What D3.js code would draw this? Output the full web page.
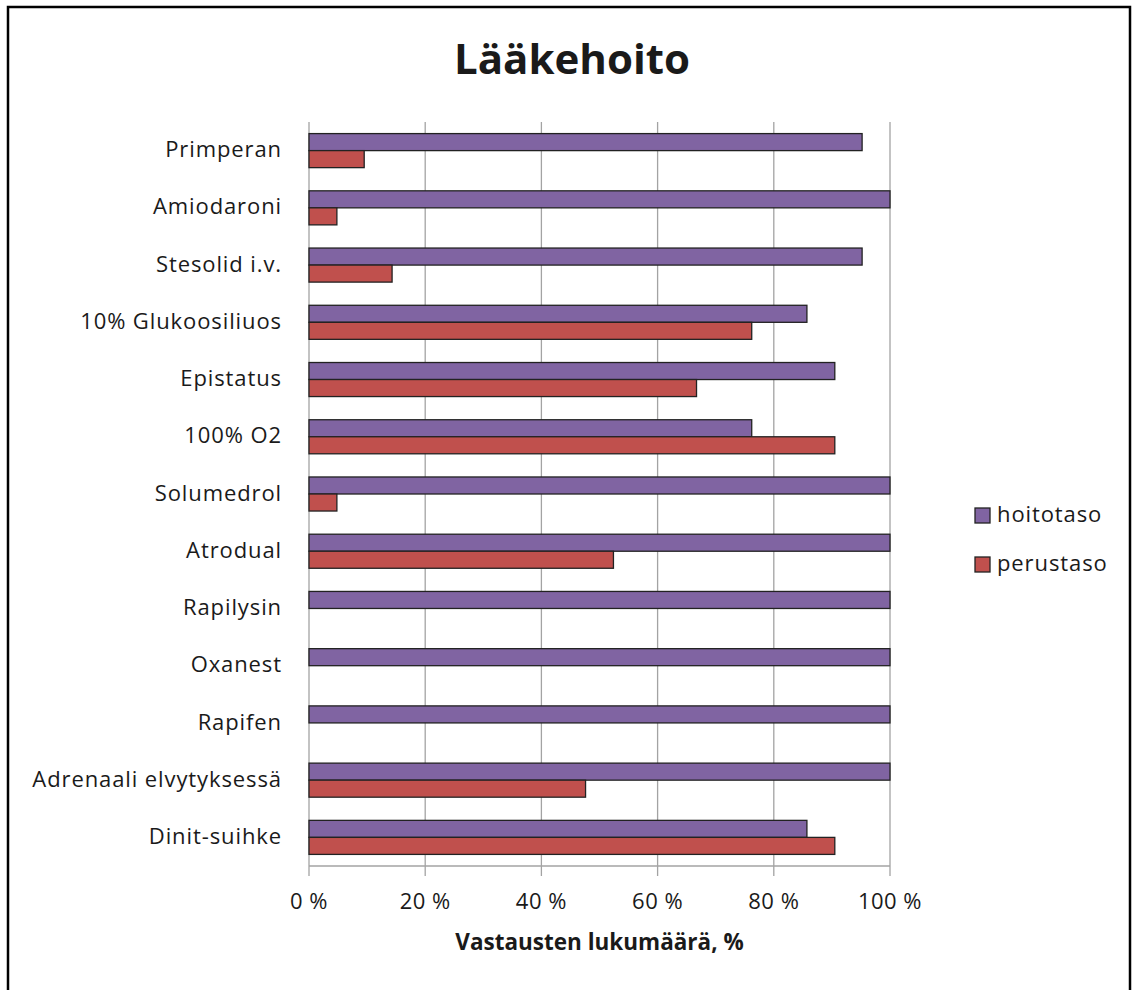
<!DOCTYPE html>
<html>
<head>
<meta charset="utf-8">
<script src="https://cdn.jsdelivr.net/npm/d3@7"></script>
<style>
  body { margin: 0; background: #fff; }
  text { font-family: "Open Sans", Lato, sans-serif; fill: #1a1a1a; }
</style>
</head>
<body>
<svg id="chart" width="1133" height="990"></svg>
<script>
const svg = d3.select('#chart')

// data (percent of answers)
const categories = ['Primperan', 'Amiodaroni', 'Stesolid i.v.', '10% Glukoosiliuos', 'Epistatus', '100% O2',
  'Solumedrol', 'Atrodual', 'Rapilysin', 'Oxanest', 'Rapifen', 'Adrenaali elvytyksessä', 'Dinit-suihke']
const hoitotaso = [95.2, 100, 95.2, 85.7, 90.5, 76.2, 100, 100, 100, 100, 100, 100, 85.7]
const perustaso = [9.5, 4.8, 14.3, 76.2, 66.7, 90.5, 4.8, 52.4, 0, 0, 0, 47.6, 90.5]
const seriesNames = ['hoitotaso', 'perustaso']
const xTicks = [0, 20, 40, 60, 80, 100]

const colors = { hoitotaso: '#8064a2', perustaso: '#c0504d' }
const gridColor = '#a3a3a3'

const plotLeft = 309, plotRight = 890, plotTop = 122, plotBottom = 866

// outer frame
svg.append('rect')
  .attr('x', 8).attr('y', 7)
  .attr('width', 1122).attr('height', 1000)
  .attr('fill', 'none').attr('stroke', '#000').attr('stroke-width', 2.5)

svg.append('text')
  .attr('x', 572).attr('y', 74)
  .attr('text-anchor', 'middle')
  .style('font-size', '42px').style('font-weight', 'bold')
  .text('Lääkehoito')

const x = d3.scaleLinear().domain([0, 100]).range([plotLeft, plotRight])
const y = d3.scaleBand().domain(categories).range([plotTop, plotBottom])
  .paddingInner(0.405).paddingOuter(0.2025)
const ySub = d3.scaleBand().domain(seriesNames).range([0, y.bandwidth()])

// gridlines + ticks below the axis
svg.append('g').selectAll('line')
  .data(xTicks)
  .join('line')
    .attr('x1', d => x(d)).attr('x2', d => x(d))
    .attr('y1', plotTop).attr('y2', plotBottom + 10)
    .attr('stroke', gridColor).attr('stroke-width', 1.3)

svg.append('line')
  .attr('x1', plotLeft).attr('x2', plotRight)
  .attr('y1', plotBottom).attr('y2', plotBottom)
  .attr('stroke', gridColor).attr('stroke-width', 1.3)

svg.append('g').selectAll('text')
  .data(xTicks)
  .join('text')
    .attr('x', d => x(d)).attr('y', 909)
    .attr('text-anchor', 'middle')
    .style('font-size', '22px').style('letter-spacing', '0.5px')
    .text(d => d + ' %')

svg.append('text')
  .attr('x', (plotLeft + plotRight) / 2).attr('y', 950)
  .attr('text-anchor', 'middle')
  .style('font-size', '22.5px').style('font-weight', 'bold')
  .text('Vastausten lukumäärä, %')

// category labels
svg.append('g').selectAll('text')
  .data(categories)
  .join('text')
    .attr('x', 282)
    .attr('y', d => y(d) + y.bandwidth() / 2)
    .attr('dy', '0.3em')
    .attr('text-anchor', 'end')
    .style('font-size', '22px').style('letter-spacing', '0.9px')
    .text(d => d)

// bars
const rows = categories.map((c, i) => ({ cat: c, hoitotaso: hoitotaso[i], perustaso: perustaso[i] }))
seriesNames.forEach(s => {
  svg.append('g').selectAll('rect')
    .data(rows.filter(d => d[s] > 0))
    .join('rect')
      .attr('x', x(0))
      .attr('y', d => y(d.cat) + ySub(s))
      .attr('width', d => x(d[s]) - x(0))
      .attr('height', ySub.bandwidth())
      .attr('fill', colors[s])
      .attr('stroke', '#222').attr('stroke-width', 1.3)
})

// legend
const legend = svg.append('g').selectAll('g')
  .data(seriesNames)
  .join('g')
    .attr('transform', (d, i) => 'translate(975,' + (508 + i * 49) + ')')
legend.append('rect')
  .attr('width', 15).attr('height', 15)
  .attr('fill', d => colors[d])
  .attr('stroke', '#222').attr('stroke-width', 1.3)
legend.append('text')
  .attr('x', 22).attr('y', 7.5).attr('dy', '0.3em')
  .style('font-size', '22px').style('letter-spacing', '0.9px')
  .text(d => d)
</script>
</body>
</html>
